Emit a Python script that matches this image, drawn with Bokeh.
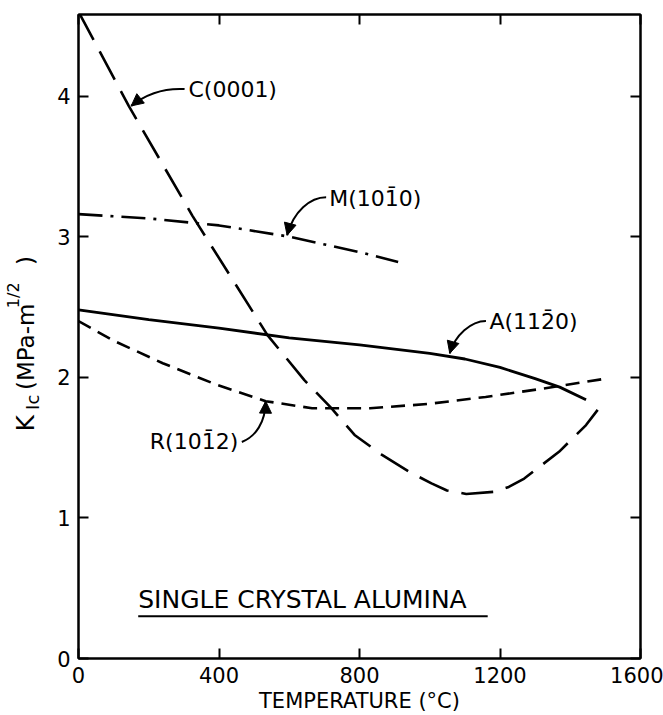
import math
from bokeh.plotting import figure
from bokeh.layouts import row
from bokeh.models import LinearAxis, FixedTicker, Label, Arrow, NormalHead, Range1d
from bokeh.core.properties import value
from bokeh.embed import file_html
from bokeh.resources import INLINE

# ---- data ----
c_temp = [0, 143, 324, 538, 643, 720, 786, 863, 940, 1005, 1049, 1104, 1181, 1225, 1269, 1368, 1445, 1500]
c_kic = [4.60, 3.93, 3.15, 2.30, 1.98, 1.78, 1.59, 1.45, 1.33, 1.245, 1.195, 1.17, 1.185, 1.22, 1.28, 1.47, 1.66, 1.84]
m_temp = [0, 200, 400, 600, 800, 910]
m_kic = [3.16, 3.13, 3.08, 3.00, 2.89, 2.82]
a_temp = [0, 200, 400, 600, 800, 1000, 1100, 1200, 1300, 1370, 1445]
a_kic = [2.48, 2.41, 2.35, 2.28, 2.23, 2.17, 2.13, 2.07, 1.99, 1.93, 1.84]
r_temp = [0, 100, 240, 390, 533, 665, 830, 995, 1159, 1324, 1500]
r_kic = [2.40, 2.26, 2.10, 1.95, 1.83, 1.78, 1.78, 1.81, 1.86, 1.92, 1.99]
x_ticks = [0, 400, 800, 1200, 1600]
y_ticks = [0, 1, 2, 3, 4]
series_names = ["C(0001)", "M(10" + "1\u0304" + "0)", "A(11" + "2\u0304" + "0)", "R(10" + "1\u0304" + "2)"]
panel_title = "SINGLE CRYSTAL ALUMINA"
x_title = "TEMPERATURE (\u00b0C)"
y_title_parts = ["K", "Ic", "(MPa-m", "1/2", ")"]

FONT = "DejaVu Sans"
LEFT_W = 50

# ---- narrow figure holding the rotated y-axis title ----
ly = figure(width=LEFT_W, height=715, x_range=Range1d(0, LEFT_W), y_range=Range1d(0, 715),
            output_backend="svg", toolbar_location=None, x_axis_type=None, y_axis_type=None,
            min_border=0)
ly.outline_line_color = None
ly.grid.visible = False
# (x centre, start position, font size)
ypos = [(25, 463, "25px"), (32, 439, "18px"), (25, 417, "23px"), (13, 326, "16px"), (25, 278, "23px")]
for t, (px, sy, fs) in zip(y_title_parts, ypos):
    ly.text(x=[px], y=[715 - sy], text=[t], angle=math.pi / 2, text_font=value(FONT),
            text_font_size=value(fs), text_align="left", text_baseline="middle",
            text_color="black")

# ---- main figure ----
p = figure(width=663 - LEFT_W, height=715, x_range=Range1d(0, 1600), y_range=Range1d(0, 4.58),
           output_backend="svg", toolbar_location=None,
           min_border_left=78 - LEFT_W, min_border_right=23, min_border_top=14, min_border_bottom=55)
p.grid.visible = False
p.outline_line_color = "black"
p.outline_line_width = 2

p.xaxis.ticker = FixedTicker(ticks=x_ticks)
p.yaxis.ticker = FixedTicker(ticks=y_ticks)
for ax in (p.xaxis[0], p.yaxis[0]):
    ax.major_tick_in = 10
    ax.major_tick_out = 0
    ax.minor_tick_line_color = None
    ax.axis_line_width = 2
    ax.major_tick_line_width = 2
    ax.major_label_text_font = FONT
    ax.major_label_text_font_size = "21px"
    ax.major_label_text_color = "black"
p.xaxis.major_label_standoff = 8
p.yaxis.major_label_standoff = 8
p.xaxis.axis_label = x_title
p.xaxis.axis_label_text_font = FONT
p.xaxis.axis_label_text_font_size = "21px"
p.xaxis.axis_label_text_font_style = "normal"
p.xaxis.axis_label_text_color = "black"
p.xaxis.axis_label_standoff = 3

# top / right tick-only axes
for loc, ticks in (("above", x_ticks), ("right", y_ticks)):
    ax = LinearAxis(ticker=FixedTicker(ticks=ticks), major_tick_in=10, major_tick_out=0,
                    minor_tick_line_color=None, axis_line_width=2, major_tick_line_width=2,
                    major_label_overrides={t: "" for t in ticks},
                    major_label_text_font_size="1px", major_label_standoff=0)
    p.add_layout(ax, loc)

# curves
p.line(c_temp, c_kic, line_color="black", line_width=2.6, line_dash="32 13")
p.line(m_temp, m_kic, line_color="black", line_width=2.6, line_dash="24 8 3 8")
p.line(a_temp, a_kic, line_color="black", line_width=2.8)
p.line(r_temp, r_kic, line_color="black", line_width=2.6, line_dash="14 8")

# curve labels
label_pos = [(313, 4.05), (714, 3.27), (1170, 2.40), (203, 1.54)]
for name, (lx, lyy) in zip(series_names, label_pos):
    p.add_layout(Label(x=lx, y=lyy, text=name, text_font=FONT, text_font_size="22px",
                       text_align="left", text_baseline="middle", text_color="black"))

# curved arrows: (start, ctrl0, ctrl1, end)
arrows = [
    ((302, 4.05), (230, 4.06), (185, 4.00), (150, 3.93)),
    ((705, 3.28), (660, 3.28), (612, 3.18), (594, 3.01)),
    ((1160, 2.40), (1118, 2.40), (1072, 2.30), (1057, 2.17)),
    ((465, 1.54), (505, 1.58), (532, 1.68), (533, 1.83)),
]
for (s, c0, c1, e) in arrows:
    p.bezier(x0=[s[0]], y0=[s[1]], x1=[e[0]], y1=[e[1]], cx0=[c0[0]], cy0=[c0[1]],
             cx1=[c1[0]], cy1=[c1[1]], line_color="black", line_width=2)
    p.add_layout(Arrow(end=NormalHead(size=12, fill_color="black", line_color="black"),
                       x_start=c1[0], y_start=c1[1], x_end=e[0], y_end=e[1],
                       line_alpha=0))

# panel title with underline
p.add_layout(Label(x=170, y=0.42, text=panel_title, text_font=FONT, text_font_size="25px",
                   text_align="left", text_baseline="middle", text_color="black"))
p.line([170, 1165], [0.30, 0.30], line_color="black", line_width=2)

layout = row(ly, p, spacing=0)
open("out.html", "w").write(file_html(layout, INLINE))
